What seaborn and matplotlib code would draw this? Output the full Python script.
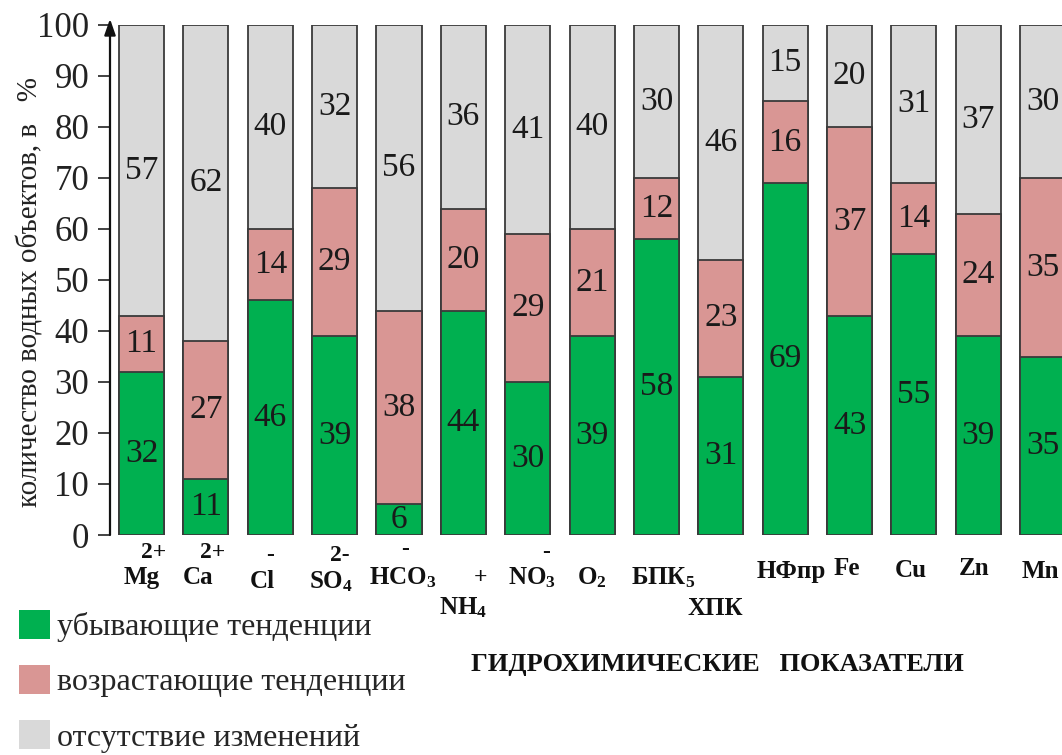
import matplotlib
matplotlib.use("Agg")
import matplotlib.pyplot as plt
import seaborn as sns
import numpy as np
from matplotlib.patches import Patch

# ---------------- data ----------------
categories = ["Mg", "Ca", "Cl", "SO4", "HCO3", "NH4", "NO3", "O2",
              "БПК5", "ХПК", "НФпр", "Fe", "Cu", "Zn", "Mn"]
tick_labels = ["Mg", "Ca", "Cl", "SO$_4$", "HCO$_3$", "NH$_4$", "NO$_3$", "O$_2$",
               "БПК$_5$", "ХПК", "НФпр", "Fe", "Cu", "Zn", "Mn"]
charges = ["2+", "2+", "-", "2-", "-", "+", "-", "", "", "", "", "", "", "", ""]
decreasing = [32, 11, 46, 39, 6, 44, 30, 39, 58, 31, 69, 43, 55, 39, 35]
increasing = [11, 27, 14, 29, 38, 20, 29, 21, 12, 23, 16, 37, 14, 24, 35]
no_change = [57, 62, 40, 32, 56, 36, 41, 40, 30, 46, 15, 20, 31, 37, 30]
series_names = ["убывающие тенденции", "возрастающие тенденции", "отсутствие изменений"]
y_label = "количество водных объектов, в   %"
x_title = "ГИДРОХИМИЧЕСКИЕ   ПОКАЗАТЕЛИ"

# ---------------- layout (label offsets) ----------------
label_dx = [0.0, -0.12, -0.12, -0.06, 0.05, 0.0, 0.06, 0.0, 0.1, -0.08, 0.1, -0.04, -0.05, -0.06, -0.03]
label_y = [-0.084, -0.084, -0.092, -0.092, -0.084, -0.143, -0.084, -0.084, -0.084, -0.145,
           -0.072, -0.065, -0.069, -0.065, -0.072]
charge_dx = [0.18, 0.11, 0.0, 0.08, 0.1, 0.26, 0.28] + [0] * 8
charge_y = [-0.035, -0.035, -0.041, -0.041, -0.029, -0.084, -0.035] + [0] * 8

GREEN = "#00B050"
PINK = "#D99694"
GRAY = "#D9D9D9"
EDGE = "#3a3a3a"

sns.set_theme(style="white")
plt.rcParams["font.family"] = ["Liberation Serif", "DejaVu Serif"]
plt.rcParams["mathtext.fontset"] = "custom"
plt.rcParams["mathtext.rm"] = "Liberation Serif:bold"
plt.rcParams["mathtext.bf"] = "Liberation Serif:bold"
plt.rcParams["mathtext.default"] = "bf"

fig = plt.figure(figsize=(10.62, 7.55), dpi=100)
ax = fig.add_axes([110 / 1062, 1 - 535 / 755, 1 - 110 / 1062, 510 / 755])

dec = np.array(decreasing)
inc = np.array(increasing)
non = np.array(no_change)
tot_all = dec + inc + non
tot_two = dec + inc

common = dict(width=0.7, saturation=1, edgecolor=EDGE, linewidth=1.3, ax=ax, order=categories)
sns.barplot(x=categories, y=tot_all, color=GRAY, **common)
sns.barplot(x=categories, y=tot_two, color=PINK, **common)
sns.barplot(x=categories, y=dec, color=GREEN, **common)

# value labels centered in each segment
for i in range(len(categories)):
    for bottom, val in ((0, dec[i]), (dec[i], inc[i]), (tot_two[i], non[i])):
        ax.text(i, bottom + val / 2, f"{val}", ha="center", va="center",
                fontsize=24, color="#1a1a1a")

ax.set_xlim(-0.49, 14.30)
ax.set_ylim(0, 100)
ax.set_yticks(np.arange(0, 101, 10))
ax.tick_params(axis="y", which="major", direction="out", length=9, width=1.2,
               colors="#222222", labelsize=25, left=True, pad=6)
ax.tick_params(axis="x", length=0, labelbottom=False)
ax.set_xlabel("")
ax.set_ylabel("")
for s in ax.spines.values():
    s.set_visible(False)

# y axis with arrow
ax.annotate("", xy=(0, 1.012), xytext=(0, 0), xycoords="axes fraction",
            textcoords="axes fraction",
            arrowprops=dict(arrowstyle="-|>,head_length=0.8,head_width=0.28",
                            color="#111111", lw=1.6, shrinkA=0, shrinkB=0),
            annotation_clip=False)

# category labels and charges
xt = ax.get_xaxis_transform()
for i, lab in enumerate(tick_labels):
    ax.text(i + label_dx[i], label_y[i], lab, transform=xt, ha="center", va="center",
            fontsize=18, fontweight="bold", color="#111111", clip_on=False)
    if charges[i]:
        ax.text(i + charge_dx[i], charge_y[i], charges[i], transform=xt, ha="center",
                va="center", fontsize=17, fontweight="bold", color="#111111", clip_on=False)

fig.text(0.028, 1 - 292 / 755, y_label, rotation=90, ha="center", va="center",
         fontsize=21, color="#222222")
fig.text(717 / 1062, 1 - 665 / 755, x_title, ha="center", va="center",
         fontsize=19, fontweight="bold", color="#111111")

handles = [Patch(facecolor=c, edgecolor="none") for c in (GREEN, PINK, GRAY)]
fig.legend(handles, series_names, loc="upper left", bbox_to_anchor=(0.018, 1 - 610 / 755),
           frameon=False, fontsize=23, handlelength=0.98, handleheight=1.0,
           handletextpad=0.2, labelspacing=0.72, borderaxespad=0, borderpad=0)

fig.savefig("out.png", dpi=100, facecolor="white")
